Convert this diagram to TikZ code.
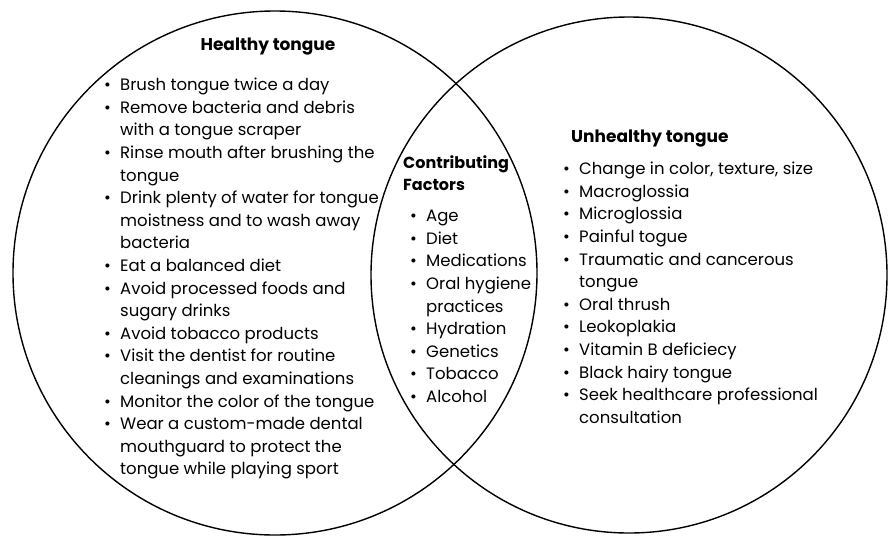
\documentclass[tikz,border=0pt]{standalone}
\usepackage{fontspec}
\setmainfont{Poppins}
\usetikzlibrary{positioning}

\newcommand{\bl}{\makebox[16pt][l]{\textbullet}}
\newcommand{\cont}{\hspace*{16pt}}

\begin{document}
\begin{tikzpicture}[x=1pt, y=-1pt,
    venn/.style={circle, draw, line width=1.4pt, inner sep=0pt},
    title/.style={font=\fontsize{17}{22.6}\selectfont\bfseries, inner sep=0pt},
    items/.style={align=left, font=\fontsize{16.5}{22.6}\selectfont, inner sep=0pt, anchor=north west},
    ]
\useasboundingbox (0,0) rectangle (888,536);

% the two sets
\node[venn, minimum size=524pt] (healthy) at (275,273) {};
\node[venn, minimum size=516pt] (unhealthy) at (629,275) {};

% left set
\node[title] (htitle) at (268,47) {Healthy tongue};
\node[items] (hlist) at (104,78) {%
    \bl Brush tongue twice a day\\
    \bl Remove bacteria and debris\\
    \cont with a tongue scraper\\
    \bl Rinse mouth after brushing the\\
    \cont tongue\\
    \bl Drink plenty of water for tongue\\
    \cont moistness and to wash away\\
    \cont bacteria\\
    \bl Eat a balanced diet\\
    \bl Avoid processed foods and\\
    \cont sugary drinks\\
    \bl Avoid tobacco products\\
    \bl Visit the dentist for routine\\
    \cont cleanings and examinations\\
    \bl Monitor the color of the tongue\\
    \bl Wear a custom-made dental\\
    \cont mouthguard to protect the\\
    \cont tongue while playing sport};

% overlap
\node[title, font=\fontsize{16}{22.6}\selectfont\bfseries, align=left, anchor=north west] (ctitle) at (403,155) {Contributing\\Factors};
\node[items] (clist) at (410,210) {%
    \bl Age\\
    \bl Diet\\
    \bl Medications\\
    \bl Oral hygiene\\
    \cont practices\\
    \bl Hydration\\
    \bl Genetics\\
    \bl Tobacco\\
    \bl Alcohol};

% right set
\node[title, anchor=north west] (utitle) at (571,130) {Unhealthy tongue};
\node[items] (ulist) at (563,162) {%
    \bl Change in color, texture, size\\
    \bl Macroglossia\\
    \bl Microglossia\\
    \bl Painful togue\\
    \bl Traumatic and cancerous\\
    \cont tongue\\
    \bl Oral thrush\\
    \bl Leokoplakia\\
    \bl Vitamin B deficiecy\\
    \bl Black hairy tongue\\
    \bl Seek healthcare professional\\
    \cont consultation};
\end{tikzpicture}
\end{document}
